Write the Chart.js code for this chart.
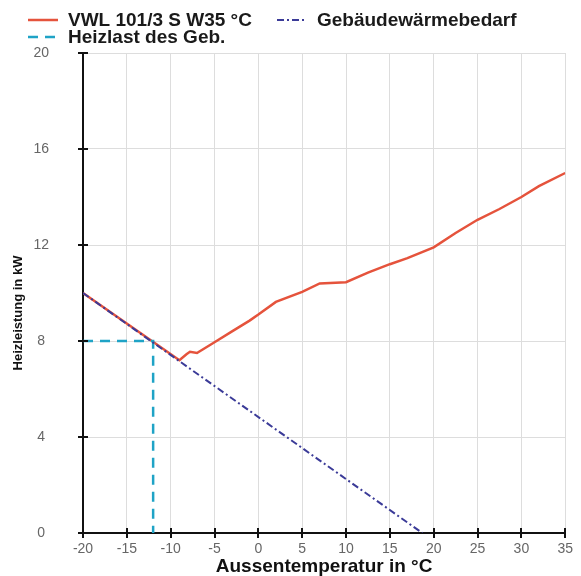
<!DOCTYPE html>
<html>
<head>
<meta charset="utf-8">
<script src="https://cdn.jsdelivr.net/npm/chart.js@4"></script>
<style>
  body { margin: 0; background: #fff; }
  canvas { display: block; }
</style>
</head>
<body>
<canvas id="chart" width="581" height="576"></canvas>
<script>
// heat pump output curve (VWL 101/3 S, W35)
const pumpTemps = [-20, -9, -8.2, -7.8, -7, -5, -3, -1, 0, 2, 5, 7, 10, 12.5, 15, 17, 20, 22.5, 25, 27.5, 30, 32, 35];
const pumpPower = [10, 7.2, 7.45, 7.55, 7.5, 7.95, 8.4, 8.85, 9.1, 9.63, 10.05, 10.4, 10.45, 10.85, 11.2, 11.45, 11.9, 12.5, 13.05, 13.5, 14.0, 14.45, 15.0];

// building heat demand
const demandTemps = [-20, 18.7];
const demandPower = [10, 0];

// design heat load of the building
const loadTemps = [-20, -12, -12];
const loadPower = [8, 8, 0];

const xTicks = [-20, -15, -10, -5, 0, 5, 10, 15, 20, 25, 30, 35];
const yTicks = [0, 4, 8, 12, 16, 20];

const FONT = "'Liberation Sans', Arial, sans-serif";

const toPoints = (xs, ys) => xs.map((x, i) => ({ x: x, y: ys[i] }));

// cross-shaped tick marks on both axes
const axisMarks = {
    id: 'axisMarks',
    afterDraw(chart) {
        const ctx = chart.ctx;
        const xs = chart.scales.x, ys = chart.scales.y;
        ctx.save();
        ctx.strokeStyle = '#111';
        ctx.lineWidth = 2;
        ctx.beginPath();
        xs.ticks.forEach(t => {
            const px = Math.round(xs.getPixelForValue(t.value));
            ctx.moveTo(px, ys.bottom - 5);
            ctx.lineTo(px, ys.bottom + 5);
        });
        ys.ticks.forEach(t => {
            const py = Math.round(ys.getPixelForValue(t.value));
            ctx.moveTo(xs.left - 5, py);
            ctx.lineTo(xs.left + 5, py);
        });
        ctx.stroke();

        // y axis title
        ctx.fillStyle = '#111';
        ctx.font = 'bold 13px ' + FONT;
        ctx.textAlign = 'center';
        ctx.textBaseline = 'middle';
        ctx.translate(18, 313);
        ctx.rotate(-Math.PI / 2);
        ctx.fillText('Heizleistung in kW', 0, 0);
        ctx.restore();
    }
};

// legend laid out like the original (two rows)
const lineLegend = {
    id: 'lineLegend',
    afterDraw(chart) {
        const ctx = chart.ctx;
        const slots = [
            { ds: 0, x: 28, y: 20 },
            { ds: 1, x: 277, y: 20 },
            { ds: 2, x: 28, y: 37 }
        ];
        ctx.save();
        ctx.font = 'bold 19px ' + FONT;
        ctx.textBaseline = 'middle';
        ctx.textAlign = 'left';
        slots.forEach(s => {
            const ds = chart.data.datasets[s.ds];
            ctx.strokeStyle = ds.borderColor;
            ctx.lineWidth = ds.borderWidth;
            ctx.setLineDash(ds.borderDash || []);
            ctx.beginPath();
            ctx.moveTo(s.x, s.y);
            ctx.lineTo(s.x + 30, s.y);
            ctx.stroke();
            ctx.setLineDash([]);
            ctx.fillStyle = '#1a1a1a';
            ctx.fillText(ds.label, s.x + 40, s.y + 1);
        });
        ctx.restore();
    }
};

new Chart(document.getElementById('chart'), {
    type: 'line',
    data: {
        datasets: [{
            label: 'VWL 101/3 S W35 °C',
            data: toPoints(pumpTemps, pumpPower),
            borderColor: '#e5533c',
            borderWidth: 2.5,
            pointRadius: 0,
            order: 2
        }, {
            label: 'Gebäudewärmebedarf',
            data: toPoints(demandTemps, demandPower),
            borderColor: '#3b3b98',
            borderWidth: 2,
            borderDash: [7, 3, 2, 3],
            pointRadius: 0,
            order: 0
        }, {
            label: 'Heizlast des Geb.',
            data: toPoints(loadTemps, loadPower),
            borderColor: '#1fa3c6',
            borderWidth: 2.5,
            borderDash: [10, 7],
            pointRadius: 0,
            order: 1
        }]
    },
    options: {
        responsive: false,
        animation: false,
        devicePixelRatio: 1,
        layout: { padding: { top: 53, right: 14, bottom: 0, left: 0 } },
        plugins: {
            legend: { display: false },
            tooltip: { enabled: false }
        },
        scales: {
            x: {
                type: 'linear',
                min: -20,
                max: 35,
                afterBuildTicks: s => { s.ticks = xTicks.map(v => ({ value: v })); },
                afterFit: s => { s.height = 43; },
                ticks: { color: '#666', font: { family: FONT, size: 14 }, padding: 8 },
                grid: { color: '#ddd', drawTicks: false },
                border: { color: '#111', width: 2 },
                title: {
                    display: true,
                    text: 'Aussentemperatur in °C',
                    color: '#111',
                    font: { family: FONT, size: 19, weight: 'bold', lineHeight: 1 },
                    padding: { top: 0, bottom: 0 }
                }
            },
            y: {
                min: 0,
                max: 20,
                afterBuildTicks: s => { s.ticks = yTicks.map(v => ({ value: v })); },
                afterFit: s => { s.width = 83; },
                ticks: { color: '#666', font: { family: FONT, size: 14 }, padding: 34, crossAlign: 'center' },
                grid: { color: '#ddd', drawTicks: false },
                border: { color: '#111', width: 2 }
            }
        }
    },
    plugins: [axisMarks, lineLegend]
});
</script>
</body>
</html>
